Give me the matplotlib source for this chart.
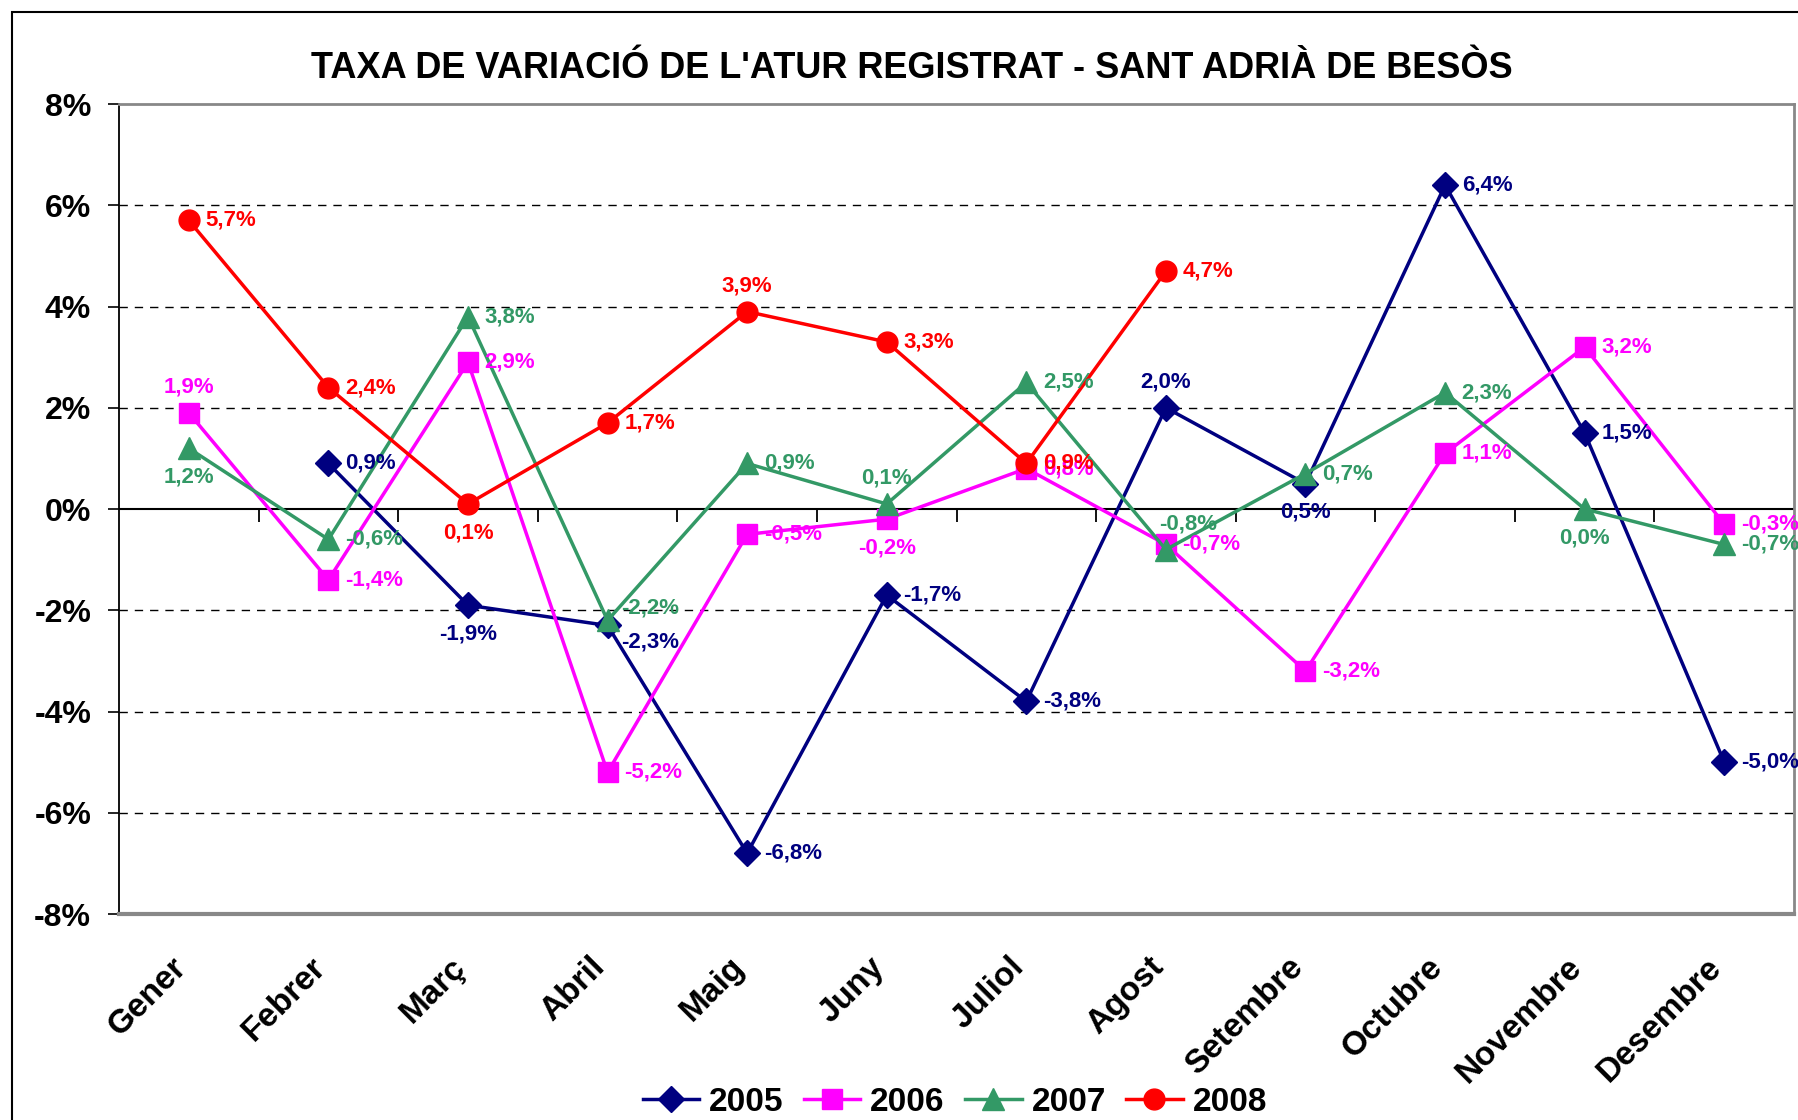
import matplotlib.pyplot as plt
import numpy as np
from matplotlib.patches import Rectangle
from matplotlib.transforms import ScaledTranslation

plt.rcParams['font.family'] = ['Liberation Sans', 'DejaVu Sans']

mesos = ["Gener", "Febrer", "Març", "Abril", "Maig", "Juny",
         "Juliol", "Agost", "Setembre", "Octubre", "Novembre", "Desembre"]

v2005 = [None, 0.9, -1.9, -2.3, -6.8, -1.7, -3.8, 2.0, 0.5, 6.4, 1.5, -5.0]
v2006 = [1.9, -1.4, 2.9, -5.2, -0.5, -0.2, 0.8, -0.7, -3.2, 1.1, 3.2, -0.3]
v2007 = [1.2, -0.6, 3.8, -2.2, 0.9, 0.1, 2.5, -0.8, 0.7, 2.3, 0.0, -0.7]
v2008 = [5.7, 2.4, 0.1, 1.7, 3.9, 3.3, 0.9, 4.7, None, None, None, None]

# on va l'etiqueta: r = dreta, b = sota, t = sobre, ru/rd = dreta amunt/avall, tr = sobre a la dreta
pos2005 = ["r", "r", "b", "rd", "r", "r", "r", "t", "b", "r", "r", "r"]
pos2006 = ["t", "r", "r", "r", "r", "b", "r", "r", "r", "r", "r", "r"]
pos2007 = ["b", "r", "r", "ru", "r", "t", "r", "tr", "r", "r", "b", "r"]
pos2008 = ["r", "r", "b", "r", "t", "r", "r", "r", "r", "r", "r", "r"]

series = [
    ("2005", v2005, pos2005, "#000080", "D", 13),
    ("2006", v2006, pos2006, "#FF00FF", "s", 14),
    ("2007", v2007, pos2007, "#339966", "^", 16),
    ("2008", v2008, pos2008, "#FF0000", "o", 15),
]

offsets = {
    "r": ((12, 0), "left", "center"),
    "ru": ((10, 9), "left", "center"),
    "rd": ((10, -12), "left", "center"),
    "b": ((0, -13), "center", "top"),
    "t": ((0, 11), "center", "bottom"),
    "tr": ((16, 11), "center", "bottom"),
}

fig = plt.figure(figsize=(17.98, 11.2), dpi=100)
fig.patches.append(Rectangle((12 / 1798, -0.1), 1.2, 1 - 12 / 1120 + 0.1,
                             transform=fig.transFigure, fill=False,
                             edgecolor="black", lw=1.5))

ax = fig.add_axes([0.0662, 0.1839, 0.9316, 0.7232])
x = np.arange(len(mesos))

for nom, vals, poss, col, mk, ms in series:
    xs = [i for i, v in enumerate(vals) if v is not None]
    ys = [v for v in vals if v is not None]
    ax.plot(xs, ys, color=col, lw=2.5, marker=mk, markersize=ms,
            markerfacecolor=col, markeredgecolor=col, label=nom, zorder=3)
    for xi, yi in zip(xs, ys):
        off, ha, va = offsets[poss[xi]]
        txt = f"{yi:.1f}%".replace(".", ",")
        ax.annotate(txt, (xi, yi), xytext=off, textcoords="offset points",
                    ha=ha, va=va, color=col, fontsize=16, fontweight="bold",
                    zorder=4)

ax.set_xlim(-0.5, len(mesos) - 0.5)
ax.set_ylim(-8, 8)
ax.set_yticks(np.arange(-8, 9, 2))
ax.set_yticklabels([f"{t}%" for t in range(-8, 9, 2)], fontsize=23,
                   fontweight="bold")
ax.tick_params(axis="y", length=8, width=1.2, pad=12)

for t in range(-6, 8, 2):
    if t != 0:
        ax.axhline(t, color="black", lw=1, ls=(0, (6, 5)), zorder=1)
ax.axhline(0, color="black", lw=1.5, zorder=2)
ax.vlines(np.arange(0.5, len(mesos) - 0.5, 1), -0.25, 0, color="black", lw=1.3)

ax.set_xticks(x)
ax.set_xticklabels(mesos, rotation=45, ha="right", rotation_mode="anchor",
                   fontsize=24, fontweight="bold")
ax.tick_params(axis="x", length=0, pad=27)
desp = ScaledTranslation(-13 / 72, 0, fig.dpi_scale_trans)
for lab in ax.get_xticklabels():
    lab.set_transform(lab.get_transform() + desp)

ax.spines["left"].set_color("black")
ax.spines["left"].set_linewidth(1.3)
ax.spines["right"].set_color("#888888")
ax.spines["right"].set_linewidth(2)
ax.spines["top"].set_color("#888888")
ax.spines["top"].set_linewidth(2)
ax.spines["bottom"].set_color("#888888")
ax.spines["bottom"].set_linewidth(3)

fig.text(0.507, 0.939, "TAXA DE VARIACIÓ DE L'ATUR REGISTRAT - SANT ADRIÀ DE BESÒS",
         ha="center", va="center", fontsize=26, fontweight="bold")

fig.legend(loc="center", bbox_to_anchor=(0.531, 0.016), ncol=4, frameon=False,
           prop={"weight": "bold", "size": 24}, handlelength=1.7,
           columnspacing=0.6, handletextpad=0.3)

fig.savefig("out.png", dpi=100)
